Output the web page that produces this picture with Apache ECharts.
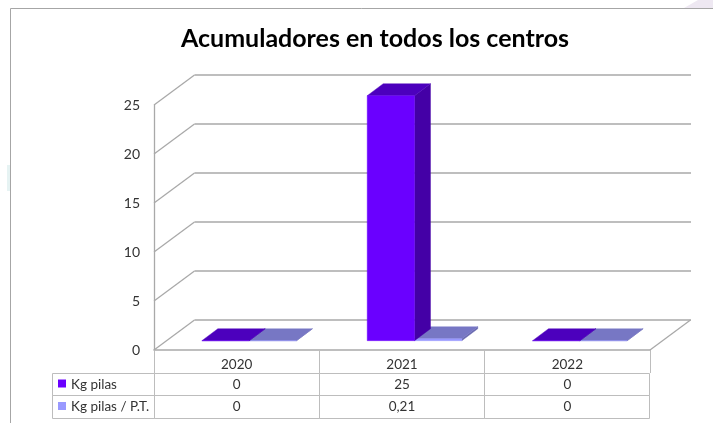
<!DOCTYPE html>
<html>
<head>
<meta charset="utf-8">
<title>Acumuladores en todos los centros</title>
<script src="https://cdn.jsdelivr.net/npm/echarts@6/dist/echarts.min.js"></script>
<style>
html, body { margin: 0; padding: 0; background: #fff; }
#chart { width: 713px; height: 423px; }
</style>
</head>
<body>
<div id="chart"></div>
<script>
const years = ['2020', '2021', '2022'];
const kgPilas = [0, 25, 0];
const kgPilasPT = [0, 0.21, 0];
const rowNames = ['Kg pilas', 'Kg pilas / P.T.'];
const rowLabels = [['0', '25', '0'], ['0', '0,21', '0']];
const yTicks = [0, 5, 10, 15, 20, 25];

// colores de cada serie: frente, tapa, lateral
const barColors = [
	{ front: '#6a00ff', top: '#4c00bd', side: '#4400a6' },
	{ front: '#9999ff', top: '#7777c4', side: '#6a6ab0' }
];
const lineColor = '#a9a9a9';
const tableColor = '#bdbdbd';
const textColor = '#333';
const font = 'Lato';

// perspectiva del suelo y la pared del fondo
const depthX = 40.5;
const depthY = 30;
const barWidth = 47.3;
const barDepthX = 16;
const barDepthY = 12;
const barShiftX = 12.5;
const barShiftY = 9.3;
const tableLeft = 52.5;
const rowHeight = 22.5;
const headHeight = 23;

var myChart = echarts.init(document.getElementById('chart'), null, { renderer: 'canvas' });

const snap = (v) => Math.floor(v) + 0.5;

const renderBar = (seriesNo) => (params, api) => {
	const center = api.coord([api.value(0), 0]);
	const top = api.coord([api.value(0), api.value(1)]);
	const x0 = center[0] - barWidth + seriesNo * barWidth + barShiftX;
	const x1 = x0 + barWidth;
	const y0 = center[1] - barShiftY;
	const y1 = top[1] - barShiftY;
	const c = barColors[seriesNo];
	const poly = (points, fill) => ({
		type: 'polygon',
		shape: { points: points },
		style: { fill: fill, stroke: fill, lineWidth: 0.4 }
	});
	return {
		type: 'group',
		children: [
			poly([[x1, y0], [x1 + barDepthX, y0 - barDepthY], [x1 + barDepthX, y1 - barDepthY], [x1, y1]], c.side),
			poly([[x0, y1], [x1, y1], [x1 + barDepthX, y1 - barDepthY], [x0 + barDepthX, y1 - barDepthY]], c.top),
			poly([[x0, y0], [x1, y0], [x1, y1], [x0, y1]], c.front)
		]
	};
};

// diagonales de la pared lateral y del suelo
const renderWall = (params, api) => {
	const v = api.value(0);
	const size = api.size([1, 0])[0];
	const p = api.coord([0, v]);
	const x = p[0] - size / 2;
	const diag = (x0) => ({
		type: 'line',
		shape: { x1: x0, y1: p[1], x2: x0 + depthX, y2: p[1] - depthY },
		style: { stroke: lineColor, lineWidth: 1.3 }
	});
	const children = [diag(x)];
	if (v === 0) children.push(diag(x + size * years.length));
	return { type: 'group', children: children };
};

// celdas de la tabla de datos, debajo de cada categoria
const renderCell = (params, api) => {
	const cat = api.value(0);
	const row = api.value(1);
	const p = api.coord([cat, 0]);
	const size = api.size([1, 0])[0];
	const y = p[1] + headHeight + row * rowHeight;
	const left = snap(p[0] - size / 2);
	const right = snap(p[0] + size / 2);
	const top = snap(y);
	return {
		type: 'group',
		children: [
			{
				type: 'rect',
				shape: { x: left, y: top, width: right - left, height: snap(y + rowHeight) - top },
				style: { fill: 'none', stroke: tableColor, lineWidth: 1 }
			},
			{
				type: 'text',
				style: {
					x: p[0],
					y: y + rowHeight / 2 + 0.3,
					text: rowLabels[row][cat],
					fill: textColor,
					font: '13.5px ' + font,
					textAlign: 'center',
					textVerticalAlign: 'middle'
				}
			}
		]
	};
};

// primera columna: clave de color y nombre de la serie
const renderRowHead = (params, api) => {
	const row = api.value(0);
	const p = api.coord([0, 0]);
	const size = api.size([1, 0])[0];
	const right = snap(p[0] - size / 2);
	const y = p[1] + headHeight + row * rowHeight;
	const top = snap(y);
	return {
		type: 'group',
		children: [
			{
				type: 'rect',
				shape: { x: tableLeft, y: top, width: right - tableLeft, height: snap(y + rowHeight) - top },
				style: { fill: 'none', stroke: tableColor, lineWidth: 1 }
			},
			{
				type: 'rect',
				shape: { x: tableLeft + 5.5, y: y + 6.5, width: 8, height: 8 },
				style: { fill: barColors[row].front }
			},
			{
				type: 'text',
				style: {
					x: tableLeft + 18.5,
					y: y + rowHeight / 2 + 0.3,
					text: rowNames[row],
					fill: textColor,
					font: '13.5px ' + font,
					textAlign: 'left',
					textVerticalAlign: 'middle'
				}
			}
		]
	};
};

var option = {
	animation: false,
	backgroundColor: '#fff',
	title: {
		text: 'Acumuladores en todos los centros',
		left: 370,
		top: 21,
		textAlign: 'center',
		textStyle: { fontFamily: font, fontSize: 25, fontWeight: 'bold', color: '#000' }
	},
	graphic: [
		// restos del fondo de la captura
		{ type: 'rect', shape: { x: 7, y: 165, width: 3, height: 26 }, style: { fill: '#e6f3f3' } },
		{ type: 'polygon', shape: { points: [[684, 8], [698, 0], [713, 0], [713, 8]] }, style: { fill: '#eee8f2' } },
		{ type: 'line', shape: { x1: 10.5, y1: 8.5, x2: 713, y2: 8.5 }, style: { stroke: '#a6a6a6', lineWidth: 1 } },
		{ type: 'line', shape: { x1: 10.5, y1: 8.5, x2: 10.5, y2: 423 }, style: { stroke: '#a6a6a6', lineWidth: 1 } }
	],
	grid: [
		{ left: 154, top: 105, width: 496, height: 245 },
		{ left: 194.5, top: 75, width: 496.5, height: 244.5 }
	],
	xAxis: [
		{
			type: 'category',
			gridIndex: 0,
			data: years,
			axisLine: { lineStyle: { color: lineColor, width: 1.5 } },
			axisTick: { show: true, length: headHeight, lineStyle: { color: tableColor, width: 1 } },
			axisLabel: { color: textColor, fontFamily: font, fontSize: 13.5, margin: 8 }
		},
		{ type: 'category', gridIndex: 1, data: years, show: false }
	],
	yAxis: [
		{
			type: 'value',
			gridIndex: 0,
			min: 0,
			max: 25,
			interval: 5,
			axisLine: { show: true, lineStyle: { color: lineColor, width: 1.3 } },
			axisTick: { show: false },
			splitLine: { show: false },
			axisLabel: { color: textColor, fontFamily: font, fontSize: 14, margin: 14 }
		},
		{
			type: 'value',
			gridIndex: 1,
			min: 0,
			max: 25,
			interval: 5,
			axisLine: { show: false },
			axisTick: { show: false },
			axisLabel: { show: false },
			splitLine: { show: true, lineStyle: { color: lineColor, width: 1.5 } }
		}
	],
	series: [
		{
			name: 'pared',
			type: 'custom',
			xAxisIndex: 0,
			yAxisIndex: 0,
			silent: true,
			renderItem: renderWall,
			encode: { y: 0 },
			data: yTicks.map((v) => [v])
		},
		{
			name: 'Kg pilas / P.T.',
			type: 'custom',
			xAxisIndex: 0,
			yAxisIndex: 0,
			renderItem: renderBar(1),
			encode: { x: 0, y: 1 },
			data: kgPilasPT.map((v, i) => [i, v])
		},
		{
			name: 'Kg pilas',
			type: 'custom',
			xAxisIndex: 0,
			yAxisIndex: 0,
			renderItem: renderBar(0),
			encode: { x: 0, y: 1 },
			data: kgPilas.map((v, i) => [i, v])
		},
		{
			name: 'tabla',
			type: 'custom',
			xAxisIndex: 0,
			yAxisIndex: 0,
			silent: true,
			renderItem: renderCell,
			data: rowLabels.flatMap((row, r) => row.map((t, c) => [c, r]))
		},
		{
			name: 'filas',
			type: 'custom',
			xAxisIndex: 0,
			yAxisIndex: 0,
			silent: true,
			renderItem: renderRowHead,
			data: rowNames.map((n, r) => [r])
		}
	]
};

option && myChart.setOption(option);
</script>
</body>
</html>
